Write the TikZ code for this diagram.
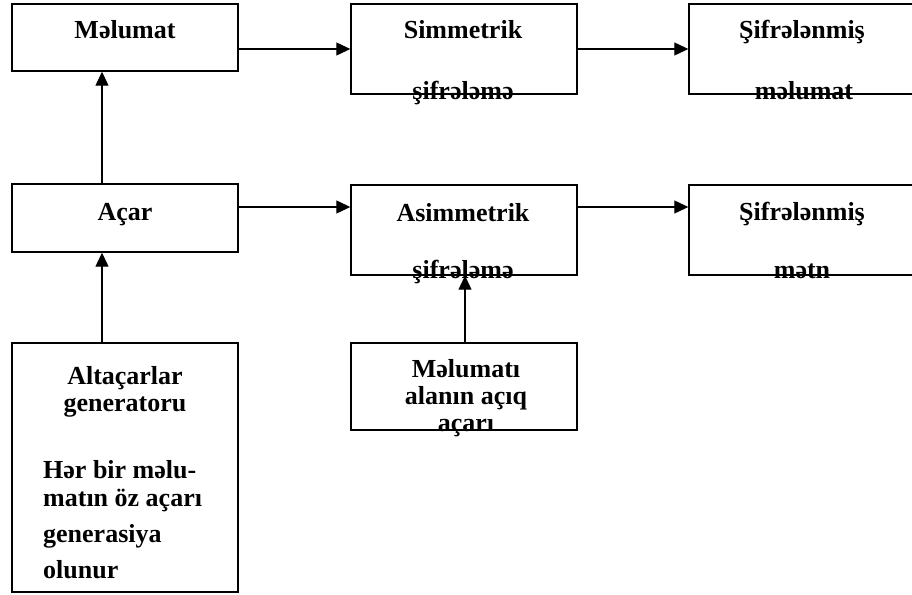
\documentclass[tikz,border=0pt]{standalone}
\usepackage{fontspec}
\setmainfont{Liberation Serif}
\usetikzlibrary{arrows.meta}
\begin{document}
\begin{tikzpicture}[x=1pt,y=-1pt,
  box/.style={draw,line width=1.4pt,inner sep=0pt},
  lbl/.style={anchor=base,inner sep=0pt,font=\fontsize{26}{27}\selectfont\bfseries},
  arr/.style={line width=1.2pt,-{Triangle[length=14pt,width=13pt]}}]
\useasboundingbox (0,0) rectangle (912,594);
% boxes, given by their corners
\newcommand{\blk}[5]{\node[box,minimum width=#4pt-#2pt,minimum height=#5pt-#3pt] (#1) at ({(#2+#4)/2},{(#3+#5)/2}) {};}
\blk{info}{12}{4}{238}{71}
\blk{sym}{351}{4}{577}{94}
\blk{enc1}{689}{4}{915}{94}
\blk{key}{12}{184}{238}{252}
\blk{asym}{351}{185}{577}{275}
\blk{enc2}{689}{185}{915}{275}
\blk{gen}{12}{343}{238}{592}
\blk{pub}{351}{343}{577}{430}
% levels of the connectors
\coordinate (row) at (0,207);
\coordinate (colL) at (102,0);
\coordinate (colM) at (465,0);
% labels
\node[lbl] (tinfo) at (125,39) {Məlumat};
\node[lbl] (tsym1) at (463,39) {Simmetrik};
\node[lbl] (tsym2) at (463,99) {şifrələmə};
\node[lbl] (tenc1a) at (802,39) {Şifrələnmiş};
\node[lbl] (tenc1b) at (804,99) {məlumat};
\node[lbl] (tkey) at (125,220) {Açar};
\node[lbl] (tasym1) at (463,221) {Asimmetrik};
\node[lbl] (tasym2) at (463,278) {şifrələmə};
\node[lbl] (tenc2a) at (802,220) {Şifrələnmiş};
\node[lbl] (tenc2b) at (802,278) {mətn};
\node[lbl] (tgen1) at (125,384) {Altaçarlar};
\node[lbl] (tgen2) at (125,411) {generatoru};
\node[lbl,anchor=base west] (tgen3) at (43,478) {Hər bir məlu-};
\node[lbl,anchor=base west] (tgen4) at (43,506) {matın öz açarı};
\node[lbl,anchor=base west] (tgen5) at (43,542) {generasiya};
\node[lbl,anchor=base west] (tgen6) at (43,578) {olunur};
\node[lbl] (tpub1) at (466,377) {Məlumatı};
\node[lbl] (tpub2) at (466,404) {alanın açıq};
\node[lbl] (tpub3) at (466,431) {açarı};
% connectors
\draw[arr] (info.east |- sym.west) -- (sym.west);
\draw[arr] (sym.east) -- (enc1.west);
\draw[arr] (key.east |- row) -- (asym.west |- row);
\draw[arr] (asym.east |- row) -- (enc2.west |- row);
\draw[arr] (colL |- key.north) -- (colL |- info.south);
\draw[arr] (colL |- gen.north) -- (colL |- key.south);
\draw[arr] (colM |- pub.north) -- (colM |- asym.south);
\end{tikzpicture}
\end{document}
